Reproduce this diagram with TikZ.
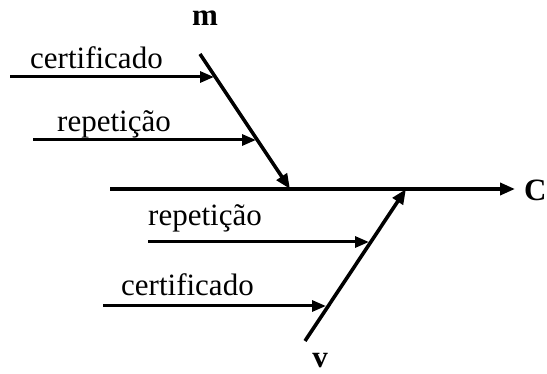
\documentclass[tikz,border=0pt]{standalone}
\usepackage{fontspec}
\setmainfont{Liberation Serif}
\usetikzlibrary{arrows.meta}
\begin{document}
\begin{tikzpicture}[x=1pt,y=-1pt,
  bone/.style={line width=3.6pt,-{Triangle[length=15pt,width=12pt]}},
  sub/.style={line width=3pt,-{Triangle[length=14pt,width=11pt]}},
  lbl/.style={inner sep=0pt,font=\fontsize{31}{34}\selectfont},
  blbl/.style={inner sep=0pt,font=\fontsize{31}{34}\selectfont\bfseries}]
\useasboundingbox (0,0) rectangle (547,374);
% spine
\coordinate (s0) at (110,189);
\coordinate (s1) at (515,189);
\node[blbl,anchor=west] (C) at (524,190) {C};
\draw[bone] (s0) -- (s1);
% top bone
\coordinate (m0) at (200,54);
\coordinate (m1) at (290,189);
\node[blbl] (m) at (205,18) {m};
\draw[bone] (m0) -- (m1);
% bottom bone
\coordinate (v0) at (305,341);
\coordinate (v1) at (406,189);
\node[blbl] (v) at (320,361) {v};
\draw[bone] (v0) -- (v1);
% sub causes top
\coordinate (a0) at (10,77);
\coordinate (a1) at (214,77);
\draw[sub] (a0) -- (a1);
\node[lbl,anchor=base west] (ta) at (30,69) {certificado};
\coordinate (b0) at (33,140);
\coordinate (b1) at (256,140);
\draw[sub] (b0) -- (b1);
\node[lbl,anchor=base west] (tb) at (57,132) {repetição};
% sub causes bottom
\coordinate (c0) at (148,242);
\coordinate (c1) at (369,242);
\draw[sub] (c0) -- (c1);
\node[lbl,anchor=base west] (tc) at (148,226) {repetição};
\coordinate (d0) at (103,306);
\coordinate (d1) at (326,306);
\draw[sub] (d0) -- (d1);
\node[lbl,anchor=base west] (td) at (121,296) {certificado};
\end{tikzpicture}
\end{document}
